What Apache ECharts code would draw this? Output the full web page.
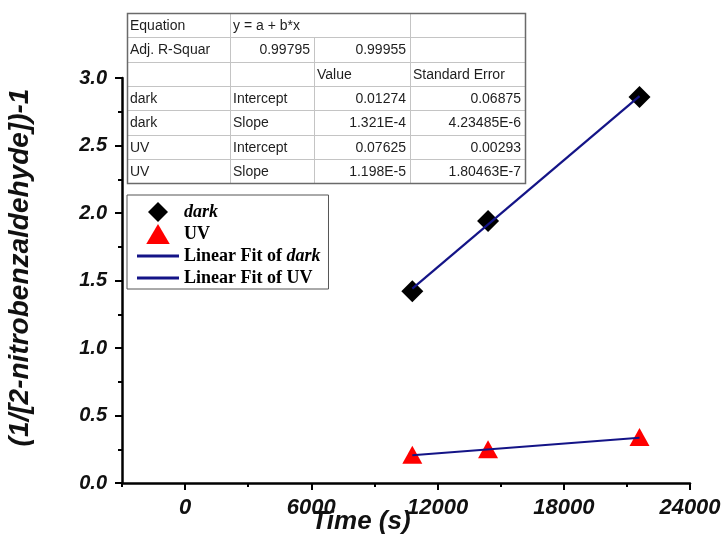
<!DOCTYPE html>
<html>
<head>
<meta charset="utf-8">
<script src="https://cdn.jsdelivr.net/npm/echarts@6/dist/echarts.min.js"></script>
<style>
  html, body { margin: 0; padding: 0; background: #fff; }
  #chart { width: 727px; height: 537px; }
</style>
</head>
<body>
<div id="chart"></div>
<script>
// Measured kinetics: reaction time (s) and (1/[2-nitrobenzaldehyde])-1
const times = [10800, 14400, 21600];
const darkValues = [1.42, 1.94, 2.86];
const uvValues = [0.21, 0.25, 0.34];

// Linear fit results, y = a + b*x  (index 0: dark, index 1: UV)
const fitIntercepts = [0.01274, 0.07625];
const fitSlopes = [1.321e-4, 1.198e-5];
const fitAdjR2Text = ['0.99795', '0.99955'];
const interceptText = ['0.01274', '0.07625'];
const interceptErrText = ['0.06875', '0.00293'];
const slopeText = ['1.321E-4', '1.198E-5'];
const slopeErrText = ['4.23485E-6', '1.80463E-7'];
const fitNames = ['dark', 'UV'];

// Axis ticks
const xMajorTicks = [0, 6000, 12000, 18000, 24000];
const xMinorTicks = [-3000, 3000, 9000, 15000, 21000];

const SANS = '"Liberation Sans", Arial, sans-serif';
const SERIF = '"Liberation Serif", "Times New Roman", serif';
const FIT_COLOR = '#141487';

// legend icons
const ICON_DIAMOND = 'path://M10,0L20,10L10,20L0,10Z';
const ICON_TRIANGLE = 'path://M10,0L20,17L0,17Z';
const ICON_LINE = 'path://M0,0H42V3H0Z';

function fitLine(i) {
  const xs = [times[0], times[times.length - 1]];
  return xs.map(x => [x, fitIntercepts[i] + fitSlopes[i] * x]);
}

// ---- parameter table drawn as graphic elements ----
function buildTable() {
  const colX = [127, 230, 314, 410, 525];
  const top = 13, rowH = 24.3, nRows = 7;
  const rows = [
    [['Equation', 'l'], ['y = a + b*x', 'l', 2], null, ['', 'l']],
    [['Adj. R-Squar', 'l'], [fitAdjR2Text[0], 'r'], [fitAdjR2Text[1], 'r'], ['', 'l']],
    [['', 'l'], ['', 'l'], ['Value', 'l'], ['Standard Error', 'l']],
    [[fitNames[0], 'l'], ['Intercept', 'l'], [interceptText[0], 'r'], [interceptErrText[0], 'r']],
    [[fitNames[0], 'l'], ['Slope', 'l'], [slopeText[0], 'r'], [slopeErrText[0], 'r']],
    [[fitNames[1], 'l'], ['Intercept', 'l'], [interceptText[1], 'r'], [interceptErrText[1], 'r']],
    [[fitNames[1], 'l'], ['Slope', 'l'], [slopeText[1], 'r'], [slopeErrText[1], 'r']]
  ];
  const els = [];
  const bottom = top + rowH * nRows;
  els.push({ type: 'rect', shape: { x: colX[0], y: top, width: colX[4] - colX[0], height: bottom - top },
    style: { fill: '#fff', stroke: null }, z: 10 });
  // horizontal rules
  for (let r = 1; r < nRows; r++) {
    const y = Math.round(top + rowH * r) + 0.5;
    els.push({ type: 'line', shape: { x1: colX[0], y1: y, x2: colX[4], y2: y },
      style: { stroke: '#c4c4c4', lineWidth: 1 }, z: 11 });
  }
  // vertical rules (the equation cell spans two columns)
  for (let c = 1; c < 4; c++) {
    const x = colX[c] + 0.5;
    const y1 = (c === 2) ? top + rowH : top;
    els.push({ type: 'line', shape: { x1: x, y1: y1, x2: x, y2: bottom },
      style: { stroke: '#c4c4c4', lineWidth: 1 }, z: 11 });
  }
  // outer border
  els.push({ type: 'rect', shape: { x: colX[0] + 0.5, y: top + 0.5, width: colX[4] - colX[0], height: bottom - top },
    style: { fill: null, stroke: '#6a6a6a', lineWidth: 1.5 }, z: 12 });
  rows.forEach((row, r) => {
    const cy = top + rowH * r + rowH / 2 + 1;
    row.forEach((cell, c) => {
      if (!cell || !cell[0]) return;
      const right = cell[1] === 'r';
      const span = cell[2] || 1;
      const x = right ? colX[c + span] - 4 : colX[c] + 3;
      els.push({ type: 'text', z: 13,
        style: { text: cell[0], x: x, y: cy, align: right ? 'right' : 'left', verticalAlign: 'middle',
          font: '14px ' + SANS, fill: '#1e1e1e' } });
    });
  });
  return els;
}

const chart = echarts.init(document.getElementById('chart'), null, { renderer: 'canvas' });

const labelFont = (size) => ({ fontFamily: SANS, fontWeight: 'bold', fontStyle: 'italic', fontSize: size, color: '#111' });

chart.setOption({
  animation: false,
  backgroundColor: '#fff',
  grid: { left: 122, right: 37, top: 78, bottom: 54, containLabel: false, outerBoundsMode: 'none' },
  legend: {
    orient: 'vertical',
    left: 127, top: 195,
    itemWidth: 42, itemHeight: 20, itemGap: 2,
    symbolKeepAspect: true,
    padding: [7, 8, 1, 10],
    borderColor: '#555', borderWidth: 1, backgroundColor: '#fff',
    data: [
      { name: 'dark', icon: ICON_DIAMOND },
      { name: 'UV', icon: ICON_TRIANGLE },
      { name: 'Linear Fit of dark', icon: ICON_LINE },
      { name: 'Linear Fit of UV', icon: ICON_LINE }
    ],
    textStyle: {
      fontFamily: SERIF, fontWeight: 'bold', fontSize: 18, color: '#000', lineHeight: 20,
      rich: {
        b: { fontFamily: SERIF, fontWeight: 'bold', fontSize: 18, color: '#000', lineHeight: 20 },
        bi: { fontFamily: SERIF, fontWeight: 'bold', fontStyle: 'italic', fontSize: 18, color: '#000', lineHeight: 20 }
      }
    },
    formatter: function (name) {
      if (name === 'dark') return '{bi|dark}';
      if (name === 'Linear Fit of dark') return '{b|Linear Fit of }{bi|dark}';
      return '{b|' + name + '}';
    }
  },
  xAxis: [
    {
      type: 'value', min: -3000, max: 24000,
      name: 'Time (s)', nameLocation: 'middle', nameGap: 26, nameMoveOverlap: false,
      nameTextStyle: Object.assign(labelFont(26), { padding: [0, 90, 0, 0] }),
      axisLine: { show: true, onZero: false, lineStyle: { color: '#000', width: 2.5 } },
      axisTick: { show: true, length: 7, lineStyle: { color: '#000', width: 2 }, customValues: xMajorTicks },
      axisLabel: Object.assign({ margin: 14, customValues: xMajorTicks, formatter: v => String(v) }, labelFont(22)),
      splitLine: { show: false }
    },
    {
      type: 'value', min: -3000, max: 24000, position: 'bottom',
      axisLine: { show: false, onZero: false },
      axisTick: { show: true, length: 4, lineStyle: { color: '#000', width: 2 }, customValues: xMinorTicks },
      axisLabel: { show: false, customValues: xMinorTicks },
      splitLine: { show: false }
    }
  ],
  yAxis: {
    type: 'value', min: 0, max: 3, interval: 0.5,
    name: '(1/[2-nitrobenzaldehyde])-1', nameLocation: 'middle', nameGap: 88, nameMoveOverlap: false,
    nameTextStyle: Object.assign(labelFont(28), { padding: [0, 0, 0, 26] }),
    axisLine: { show: true, onZero: false, lineStyle: { color: '#000', width: 2.5 } },
    axisTick: { show: true, length: 7, lineStyle: { color: '#000', width: 2 } },
    minorTick: { show: true, splitNumber: 2, length: 4, lineStyle: { color: '#000', width: 2 } },
    axisLabel: Object.assign({ margin: 15, formatter: v => v.toFixed(1) }, labelFont(20)),
    splitLine: { show: false }
  },
  series: [
    {
      name: 'dark', type: 'scatter', z: 2,
      symbol: 'diamond', symbolSize: 22,
      itemStyle: { color: '#000', opacity: 1 },
      data: times.map((t, i) => [t, darkValues[i]])
    },
    {
      name: 'UV', type: 'scatter', z: 2,
      symbol: 'triangle', symbolSize: [20, 18],
      itemStyle: { color: '#ff0000', opacity: 1 },
      data: times.map((t, i) => [t, uvValues[i]])
    },
    {
      name: 'Linear Fit of dark', type: 'line', z: 3,
      symbol: 'none', showSymbol: false,
      lineStyle: { color: FIT_COLOR, width: 2.2 }, itemStyle: { color: FIT_COLOR },
      data: fitLine(0)
    },
    {
      name: 'Linear Fit of UV', type: 'line', z: 3,
      symbol: 'none', showSymbol: false,
      lineStyle: { color: FIT_COLOR, width: 2.2 }, itemStyle: { color: FIT_COLOR },
      data: fitLine(1)
    }
  ],
  graphic: buildTable()
});
</script>
</body>
</html>
